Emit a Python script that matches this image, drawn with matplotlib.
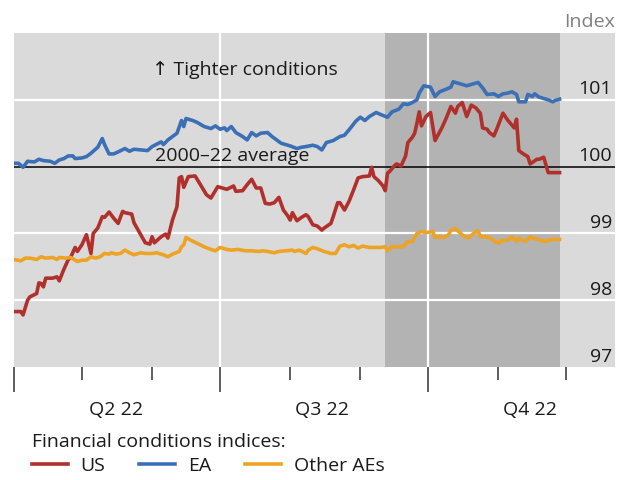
import matplotlib.pyplot as plt
import matplotlib.dates as mdates
import matplotlib.ticker as mticker
import matplotlib.transforms as mtransforms
import pandas as pd

# daily index values, x given as days after 1 April 2022
start = pd.Timestamp("2022-04-01")

us_days = [0, 3, 4, 6, 7, 10, 11, 12, 13, 14,
           17, 19, 20, 22, 24, 25, 27, 28, 30, 32,
           34, 35, 37, 39, 40, 42, 44, 46, 48, 49,
           52, 53, 56, 58, 60, 61, 62, 65, 67, 68,
           70, 72, 73, 74, 75, 77, 80, 82, 85, 87,
           90, 92, 94, 97, 98, 101, 103, 105, 107, 109,
           111, 113, 115, 117, 119, 121, 122, 123, 125, 127,
           129, 130, 132, 134, 136, 137, 140, 141, 143, 144,
           146, 148, 150, 152, 154, 157, 158, 159, 161, 163,
           164, 165, 166, 168, 169, 171, 173, 174, 176, 177,
           178, 179, 180, 182, 184, 186, 189, 191, 193, 195,
           196, 198, 200, 202, 204, 206, 207, 209, 210, 212,
           213, 216, 218, 221, 222, 223, 225, 227, 228, 231,
           232, 234, 236, 238, 241]
us_vals = [97.83, 97.83, 97.78, 98.00, 98.05, 98.10, 98.26, 98.25, 98.20, 98.33,
           98.33, 98.35, 98.29, 98.46, 98.61, 98.64, 98.79, 98.73, 98.83, 98.98,
           98.70, 99.00, 99.08, 99.25, 99.24, 99.32, 99.23, 99.15, 99.33, 99.31,
           99.29, 99.16, 98.98, 98.86, 98.84, 98.95, 98.86, 98.95, 98.99, 98.93,
           99.20, 99.40, 99.83, 99.85, 99.69, 99.85, 99.86, 99.75, 99.58, 99.53,
           99.70, 99.68, 99.66, 99.71, 99.63, 99.64, 99.73, 99.81, 99.68, 99.68,
           99.45, 99.44, 99.46, 99.54, 99.35, 99.26, 99.20, 99.31, 99.19, 99.24,
           99.28, 99.25, 99.13, 99.11, 99.05, 99.08, 99.15, 99.25, 99.46, 99.46,
           99.35, 99.48, 99.65, 99.83, 99.85, 99.86, 99.99, 99.85, 99.79, 99.71,
           99.64, 99.90, 99.93, 100.01, 100.04, 100.01, 100.16, 100.36, 100.44, 100.50,
           100.65, 100.82, 100.61, 100.75, 100.81, 100.39, 100.58, 100.73, 100.90, 100.80,
           100.90, 100.96, 100.75, 100.92, 100.88, 100.80, 100.58, 100.56, 100.51, 100.46,
           100.54, 100.80, 100.70, 100.58, 100.71, 100.24, 100.19, 100.15, 100.04, 100.11,
           100.11, 100.14, 99.91, 99.91, 99.91]

ea_days = [0, 2, 4, 6, 9, 11, 13, 16, 18, 20,
           22, 24, 26, 27, 30, 32, 34, 37, 39, 40,
           42, 44, 46, 49, 51, 53, 56, 59, 61, 65,
           66, 68, 72, 74, 75, 76, 79, 81, 84, 87,
           89, 91, 93, 94, 96, 98, 101, 103, 105, 107,
           109, 112, 114, 116, 118, 122, 125, 127, 129, 132,
           134, 136, 138, 141, 144, 146, 148, 151, 153, 155,
           157, 160, 162, 165, 167, 170, 172, 174, 176, 178,
           179, 181, 184, 186, 188, 191, 193, 194, 197, 200,
           203, 205, 207, 209, 212, 214, 216, 218, 220, 222,
           223, 226, 227, 229, 230, 232, 235, 236, 238, 239, 241]
ea_vals = [100.05, 100.05, 99.99, 100.08, 100.07, 100.11, 100.09, 100.08, 100.05, 100.10,
           100.12, 100.16, 100.16, 100.12, 100.13, 100.15, 100.20, 100.29, 100.42, 100.33,
           100.19, 100.19, 100.22, 100.27, 100.23, 100.26, 100.25, 100.24, 100.30, 100.37,
           100.33, 100.40, 100.50, 100.69, 100.60, 100.72, 100.69, 100.66, 100.60, 100.57,
           100.61, 100.56, 100.58, 100.54, 100.60, 100.51, 100.45, 100.40, 100.51, 100.46,
           100.50, 100.51, 100.45, 100.40, 100.35, 100.31, 100.27, 100.29, 100.30, 100.32,
           100.30, 100.25, 100.36, 100.39, 100.45, 100.47, 100.55, 100.68, 100.74, 100.69,
           100.75, 100.81, 100.78, 100.74, 100.82, 100.86, 100.94, 100.93, 100.96, 101.00,
           101.10, 101.21, 101.19, 101.05, 101.12, 101.16, 101.19, 101.27, 101.24, 101.21,
           101.24, 101.26, 101.18, 101.08, 101.09, 101.05, 101.09, 101.10, 101.12, 101.08,
           100.97, 100.97, 101.08, 101.05, 101.09, 101.04, 101.01, 101.00, 100.97, 100.99, 101.01]

oth_days = [0, 3, 5, 7, 10, 12, 14, 17, 19, 20,
            23, 25, 28, 30, 32, 34, 36, 38, 40, 42,
            43, 45, 47, 49, 51, 53, 56, 58, 61, 63,
            66, 68, 70, 73, 74, 75, 76, 78, 81, 84,
            87, 89, 91, 94, 96, 99, 102, 105, 108, 110,
            112, 115, 117, 120, 123, 124, 126, 129, 130, 132,
            134, 137, 140, 142, 144, 146, 148, 150, 152, 154,
            157, 159, 162, 164, 165, 167, 169, 172, 174, 176,
            178, 180, 182, 185, 186, 188, 190, 192, 193, 195,
            197, 199, 201, 203, 205, 206, 208, 210, 212, 214,
            215, 218, 220, 222, 223, 224, 226, 228, 230, 232,
            235, 236, 238, 241]
oth_vals = [98.61, 98.59, 98.63, 98.63, 98.61, 98.65, 98.63, 98.64, 98.61, 98.64,
            98.63, 98.64, 98.58, 98.60, 98.60, 98.65, 98.63, 98.65, 98.70, 98.69,
            98.71, 98.69, 98.70, 98.75, 98.71, 98.68, 98.71, 98.70, 98.70, 98.71,
            98.68, 98.65, 98.69, 98.73, 98.80, 98.83, 98.94, 98.90, 98.85, 98.80,
            98.76, 98.74, 98.79, 98.76, 98.75, 98.76, 98.74, 98.74, 98.73, 98.74,
            98.73, 98.71, 98.73, 98.74, 98.75, 98.73, 98.75, 98.70, 98.75, 98.79,
            98.77, 98.73, 98.70, 98.70, 98.81, 98.83, 98.80, 98.82, 98.78, 98.81,
            98.79, 98.79, 98.79, 98.80, 98.74, 98.80, 98.80, 98.80, 98.88, 98.88,
            99.00, 99.03, 99.01, 99.03, 98.94, 98.95, 98.94, 98.98, 99.05, 99.07,
            99.01, 98.95, 98.94, 99.00, 99.04, 98.95, 98.95, 98.94, 98.89, 98.85,
            98.89, 98.90, 98.95, 98.88, 98.93, 98.91, 98.88, 98.95, 98.92, 98.90,
            98.88, 98.90, 98.91, 98.91]

shade_from = "2022-09-12"
shade_to = "2022-11-28"
x_end = "2022-12-22 12:00"
y_labels = [97, 98, 99, 100, 101]
grid_y = [98, 99, 101]
quarter_starts = ["2022-04-01", "2022-07-01", "2022-10-01"]
quarter_names = ["Q2 22", "Q3 22", "Q4 22"]

plt.rcParams['font.family'] = ['Open Sans', 'DejaVu Sans']
txt = "#1a1a1a"
fs = 14


def to_dates(days):
    return start + pd.to_timedelta(days, unit="D")


fig = plt.figure(figsize=(6.25, 4.8), dpi=100)
ax = fig.add_axes([0.0224, 0.2354, 0.9616, 0.6958])
ax.set_facecolor("#dadada")
for s in ax.spines.values():
    s.set_visible(False)

ax.axvspan(pd.Timestamp(shade_from), pd.Timestamp(shade_to), color="#b3b3b3", lw=0, zorder=0.5)
for g in grid_y:
    ax.axhline(g, color="white", lw=1.6, zorder=1)
for q in quarter_starts[1:]:
    ax.axvline(pd.Timestamp(q), color="white", lw=1.6, zorder=1)
ax.axhline(100, color="black", lw=1.1, zorder=1.5)

ax.plot(to_dates(us_days), us_vals, color="#b0302c", lw=2.6, label="US", zorder=3)
ax.plot(to_dates(ea_days), ea_vals, color="#3b6fb6", lw=2.6, label="EA", zorder=3)
ax.plot(to_dates(oth_days), oth_vals, color="#eda324", lw=2.6, label="Other AEs", zorder=3)

ax.set_xlim(start, pd.Timestamp(x_end))
ax.set_ylim(97, 102)

ax.xaxis.set_major_locator(mdates.MonthLocator(bymonth=[1, 4, 7, 10]))
ax.xaxis.set_minor_locator(mdates.MonthLocator())
ax.xaxis.set_major_formatter(mticker.NullFormatter())
ax.tick_params(axis="x", which="major", length=18, width=1.1, color="#333333")
ax.tick_params(axis="x", which="minor", length=9, width=1.1, color="#333333")
ax.set_yticks([])

# quarter names under the middle of each quarter
xtrans = mtransforms.blended_transform_factory(ax.transData, ax.transAxes)
for q, name in zip(quarter_starts, quarter_names):
    mid = pd.Timestamp(q) + pd.Timedelta(days=45)
    ax.text(mid, -0.13, name, transform=xtrans, ha="center", va="center", fontsize=fs, color=txt)

# y labels sit inside the plot, just above their line
ytrans = mtransforms.blended_transform_factory(ax.transAxes, ax.transData)
for v in y_labels:
    ax.text(0.995, v + 0.02, str(v), transform=ytrans, ha="right", va="bottom", fontsize=fs, color=txt)

ax.text(0.235, 100.02, "2000–22 average", transform=ytrans, ha="left", va="bottom", fontsize=fs, color=txt)
ax.text(0.384, 0.89, "↑ Tighter conditions", transform=ax.transAxes, ha="center", va="center",
        fontsize=fs, color=txt)
fig.text(0.984, 0.955, "Index", ha="right", va="center", fontsize=fs, color="#808080")

leg = fig.legend(loc="upper left", bbox_to_anchor=(0.051, 0.097), ncol=3, frameon=False,
                 title="Financial conditions indices:", alignment="left", fontsize=fs,
                 title_fontsize=fs, handlelength=1.85, handletextpad=0.65, columnspacing=1.75,
                 borderpad=0, borderaxespad=0, labelspacing=0.3)
leg.get_title().set_color(txt)
for t in leg.get_texts():
    t.set_color(txt)

fig.savefig("out.png", dpi=100)
